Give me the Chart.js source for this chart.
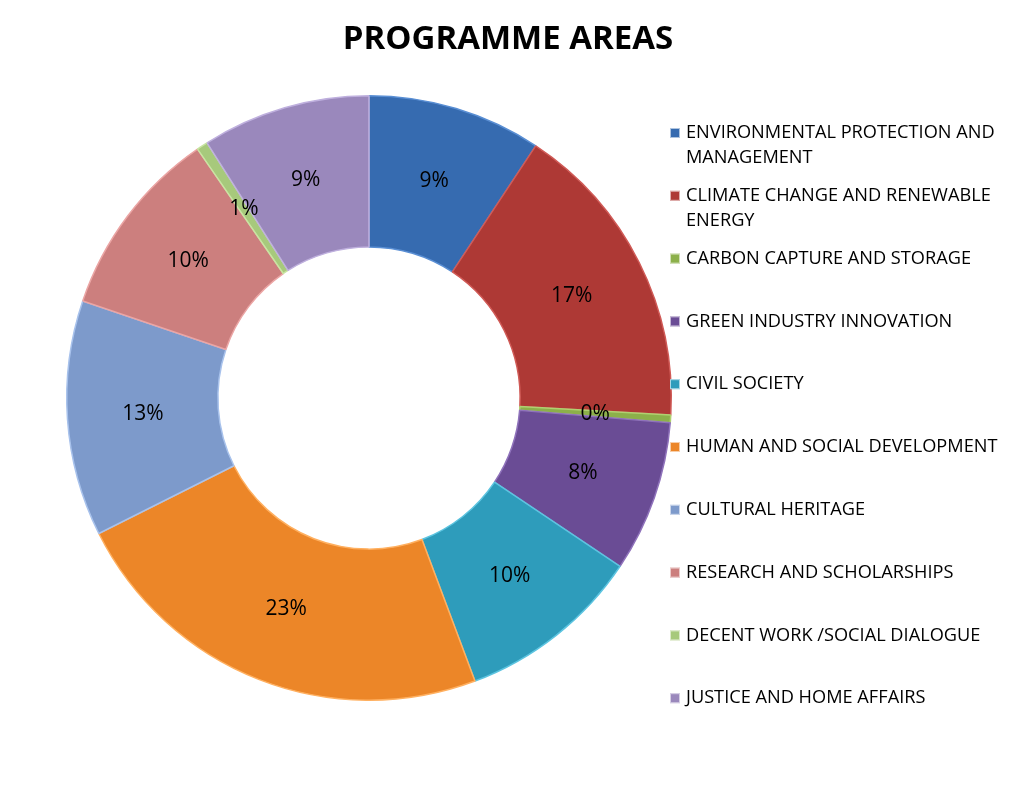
<!DOCTYPE html>
<html>
<head>
<meta charset="utf-8">
<script src="https://cdn.jsdelivr.net/npm/chart.js@4.4.1/dist/chart.umd.min.js"></script>
<style>
  html, body { margin: 0; padding: 0; background: #fff; }
  #wrap { width: 1017px; height: 793px; }
</style>
</head>
<body>
<div id="wrap"><canvas id="donut" width="1017" height="793"></canvas></div>
<script>
// data (shares in %)
const areas = [
  "ENVIRONMENTAL PROTECTION AND MANAGEMENT",
  "CLIMATE CHANGE AND RENEWABLE ENERGY",
  "CARBON CAPTURE AND STORAGE",
  "GREEN INDUSTRY INNOVATION",
  "CIVIL SOCIETY",
  "HUMAN AND SOCIAL DEVELOPMENT",
  "CULTURAL HERITAGE",
  "RESEARCH AND SCHOLARSHIPS",
  "DECENT WORK /SOCIAL DIALOGUE",
  "JUSTICE AND HOME AFFAIRS",
];
const shares = [9.3, 16.6, 0.4, 8.1, 9.9, 23.3, 12.6, 10.2, 0.6, 9.0];
const colours = [
  "#366bb0", "#ae3935", "#8cb04a", "#6a4c95", "#2e9cbb",
  "#ec8628", "#7d9acb", "#cc7f7e", "#a7c97c", "#9a88bc",
];
const edges = [
  "#5a8fd4", "#d05a56", "#b0d070", "#8f72bb", "#5cc4e0",
  "#ffb060", "#a8c2ec", "#eba5a4", "#c8e4a2", "#bfb0de",
];

const total = shares.reduce((a, b) => a + b, 0);

// percentage labels on the ring, title and a wrapping legend on the right
const extras = {
  id: "extras",
  afterDatasetsDraw(chart) {
    const ctx = chart.ctx;
    const meta = chart.getDatasetMeta(0);
    ctx.save();
    ctx.fillStyle = "#000";
    ctx.textAlign = "center";
    ctx.textBaseline = "middle";
    ctx.font = "21px 'Open Sans', sans-serif";
    meta.data.forEach((arc, i) => {
      const p = arc.tooltipPosition();
      const pct = Math.round((shares[i] / total) * 100);
      ctx.fillText(pct + "%", p.x, p.y);
    });

    // title
    ctx.font = "bold 33px 'Open Sans', sans-serif";
    ctx.fillText("PROGRAMME AREAS", 508, 40);

    // legend
    ctx.textAlign = "left";
    ctx.font = "18.2px 'Open Sans', sans-serif";
    areas.forEach((name, i) => {
      const y = 133 + i * 62.8;
      ctx.fillStyle = colours[i];
      ctx.fillRect(670, y - 5, 10, 10);
      ctx.strokeStyle = "rgba(255,255,255,0.6)";
      ctx.lineWidth = 1;
      ctx.strokeRect(670.5, y - 4.5, 9, 9);
      ctx.fillStyle = "#000";
      // wrap long names
      const words = name.split(" ");
      const lines = [];
      let line = "";
      words.forEach((w) => {
        const test = line ? line + " " + w : w;
        if (ctx.measureText(test).width > 325 && line) {
          lines.push(line);
          line = w;
        } else {
          line = test;
        }
      });
      lines.push(line);
      lines.forEach((l, j) => ctx.fillText(l, 686, y + j * 25));
    });
    ctx.restore();
  },
};

new Chart(document.getElementById("donut"), {
  type: "doughnut",
  data: {
    labels: areas,
    datasets: [
      {
        data: shares,
        backgroundColor: colours,
        borderColor: edges,
        borderWidth: 1.5,
      },
    ],
  },
  options: {
    responsive: false,
    animation: false,
    cutout: "50%",
    layout: {
      padding: { left: 66, right: 345, top: 95, bottom: 92 },
    },
    plugins: {
      legend: { display: false },
      title: { display: false },
      tooltip: { enabled: false },
    },
  },
  plugins: [extras],
});
</script>
</body>
</html>
